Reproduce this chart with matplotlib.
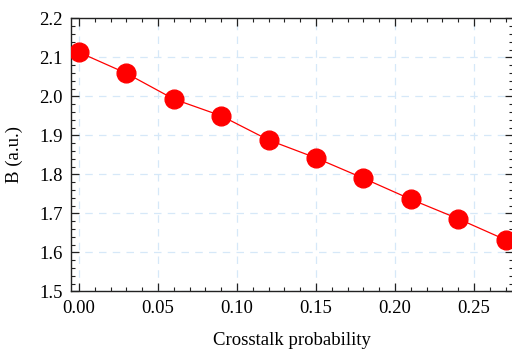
import matplotlib
matplotlib.use("Agg")
import matplotlib.pyplot as plt
from matplotlib.ticker import MultipleLocator

# Measured signal B versus crosstalk probability
crosstalk = [0.00, 0.03, 0.06, 0.09, 0.12, 0.15, 0.18, 0.21, 0.24, 0.27]
b_values = [2.113, 2.059, 1.993, 1.950, 1.888, 1.842, 1.790, 1.736, 1.686, 1.632]

x_ticks = [0.00, 0.05, 0.10, 0.15, 0.20, 0.25]
x_tick_labels = ["0.00", "0.05", "0.10", "0.15", "0.20", "0.25"]
y_ticks = [1.5, 1.6, 1.7, 1.8, 1.9, 2.0, 2.1, 2.2]
y_tick_labels = ["1.5", "1.6", "1.7", "1.8", "1.9", "2.0", "2.1", "2.2"]

plt.rcParams["font.family"] = ["Liberation Serif", "DejaVu Serif"]

fig = plt.figure(figsize=(5.12, 3.49), dpi=100)
ax = fig.add_axes([71 / 512, 1 - 291.3 / 349, 442 / 512, 273 / 349])

ax.plot(crosstalk, b_values, color="#ff0000", linewidth=0.9,
        marker="o", markersize=13.5, markerfacecolor="#ff0000",
        markeredgecolor="#ff0000", zorder=3)

ax.set_xlim(-0.005, 0.2747)
ax.set_ylim(1.5, 2.2)
ax.set_xticks(x_ticks)
ax.set_xticklabels(x_tick_labels)
ax.set_yticks(y_ticks)
ax.set_yticklabels(y_tick_labels)
ax.xaxis.set_minor_locator(MultipleLocator(0.01))
ax.yaxis.set_minor_locator(MultipleLocator(0.02))

ax.tick_params(which="both", direction="in", top=True, right=True,
               colors="#222222", labelcolor="black", labelsize=13.5)
ax.tick_params(which="major", length=6, width=0.9, pad=6)
ax.tick_params(which="minor", length=3, width=0.8)

ax.grid(True, which="major", color="#d6e8f8", linestyle=(0, (6, 5)),
        linewidth=0.9)
ax.set_axisbelow(True)

for spine in ax.spines.values():
    spine.set_color("#222222")
    spine.set_linewidth(1.0)

ax.set_xlabel("Crosstalk probability", fontsize=13.5, labelpad=11)
ax.set_ylabel("B (a.u.)", fontsize=13.5, labelpad=12)

fig.savefig("out.png", dpi=100)
